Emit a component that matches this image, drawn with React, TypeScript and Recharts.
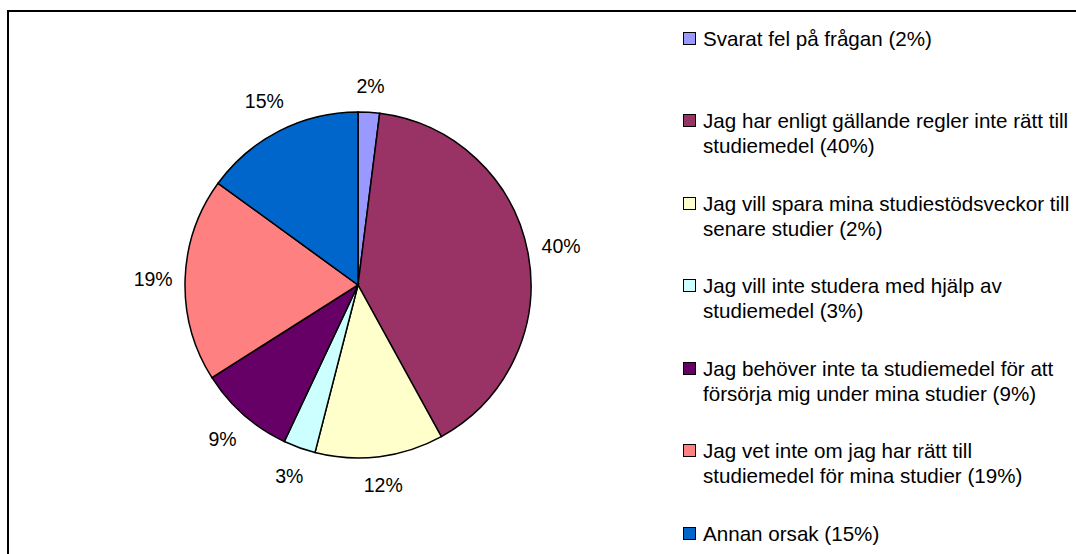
import React from 'react';
import { PieChart, Pie, Cell, Legend } from 'recharts';

// Categories and values
const categories = [
  'Svarat fel på frågan (2%)',
  'Jag har enligt gällande regler inte rätt till\nstudiemedel (40%)',
  'Jag vill spara mina studiestödsveckor till\nsenare studier (2%)',
  'Jag vill inte studera med hjälp av\nstudiemedel (3%)',
  'Jag behöver inte ta studiemedel för att\nförsörja mig under mina studier (9%)',
  'Jag vet inte om jag har rätt till\nstudiemedel för mina studier (19%)',
  'Annan orsak (15%)',
];
const values = [2, 40, 12, 3, 9, 19, 15];
const colors = ['#9999FF', '#993366', '#FFFFCC', '#CCFFFF', '#660066', '#FF8080', '#0066CC'];

const chartData = categories.map((name, i) => ({ name, value: values[i] }));

const FONT = '"Liberation Sans", Arial, sans-serif';
const RAD = Math.PI / 180;
const LABEL_SIZE = 19.5;

// Excel-style label: text box sits a fixed gap outside the rim
const renderLabel = (props: any) => {
  const { cx, cy, midAngle, outerRadius, value } = props;
  const text = `${value}%`;
  const w = (String(value).length * 0.556 + 0.889) * LABEL_SIZE;
  const c = Math.cos(-midAngle * RAD);
  const s = Math.sin(-midAngle * RAD);
  const r = outerRadius + 12 + (w / 2) * Math.abs(c) + 14 * Math.abs(s);
  return (
    <text
      x={cx + r * c}
      y={cy + r * s}
      fill="#000"
      fontSize={LABEL_SIZE}
      fontFamily={FONT}
      textAnchor="middle"
      dominantBaseline="central"
    >
      {text}
    </text>
  );
};

const renderLegend = () => (
  <div style={{ position: 'relative', width: 394, height: 554, fontFamily: FONT, fontSize: 20.6, color: '#000' }}>
    {categories.map((name, i) => {
      const center = 38 + i * 82.5;
      return (
        <div key={name} style={{ position: 'absolute', left: 0, top: center - 12.5 }}>
          <div
            style={{
              position: 'absolute',
              left: 1,
              top: 6,
              width: 11,
              height: 11,
              background: colors[i],
              border: '1px solid #000',
            }}
          />
          <div style={{ position: 'absolute', left: 21, top: 0, whiteSpace: 'pre', lineHeight: '25px' }}>
            {name}
          </div>
        </div>
      );
    })}
  </div>
);

export default function App() {
  return (
    <div style={{ position: 'absolute', left: 0, top: 0, width: 1076, height: 554, overflow: 'hidden', background: '#fff' }}>
      <div
        style={{
          position: 'absolute',
          left: 7,
          top: 10,
          width: 1200,
          height: 700,
          border: '2px solid #000',
        }}
      />
      <div style={{ position: 'absolute', left: 0, top: 0 }}>
        <PieChart width={1076} height={554} margin={{ top: 0, right: 0, bottom: 0, left: 0 }}>
          <Pie
            data={chartData}
            dataKey="value"
            nameKey="name"
            cx={358}
            cy={285}
            outerRadius={173}
            startAngle={90}
            endAngle={-270}
            stroke="#000"
            strokeWidth={1.5}
            label={renderLabel}
            labelLine={false}
            isAnimationActive={false}
          >
            {chartData.map((d, i) => (
              <Cell key={d.name} fill={colors[i]} />
            ))}
          </Pie>
          <Legend
            layout="vertical"
            align="right"
            verticalAlign="top"
            content={renderLegend}
            wrapperStyle={{ position: 'absolute', left: 682, top: 0, width: 394, height: 554 }}
          />
        </PieChart>
      </div>
    </div>
  );
}
